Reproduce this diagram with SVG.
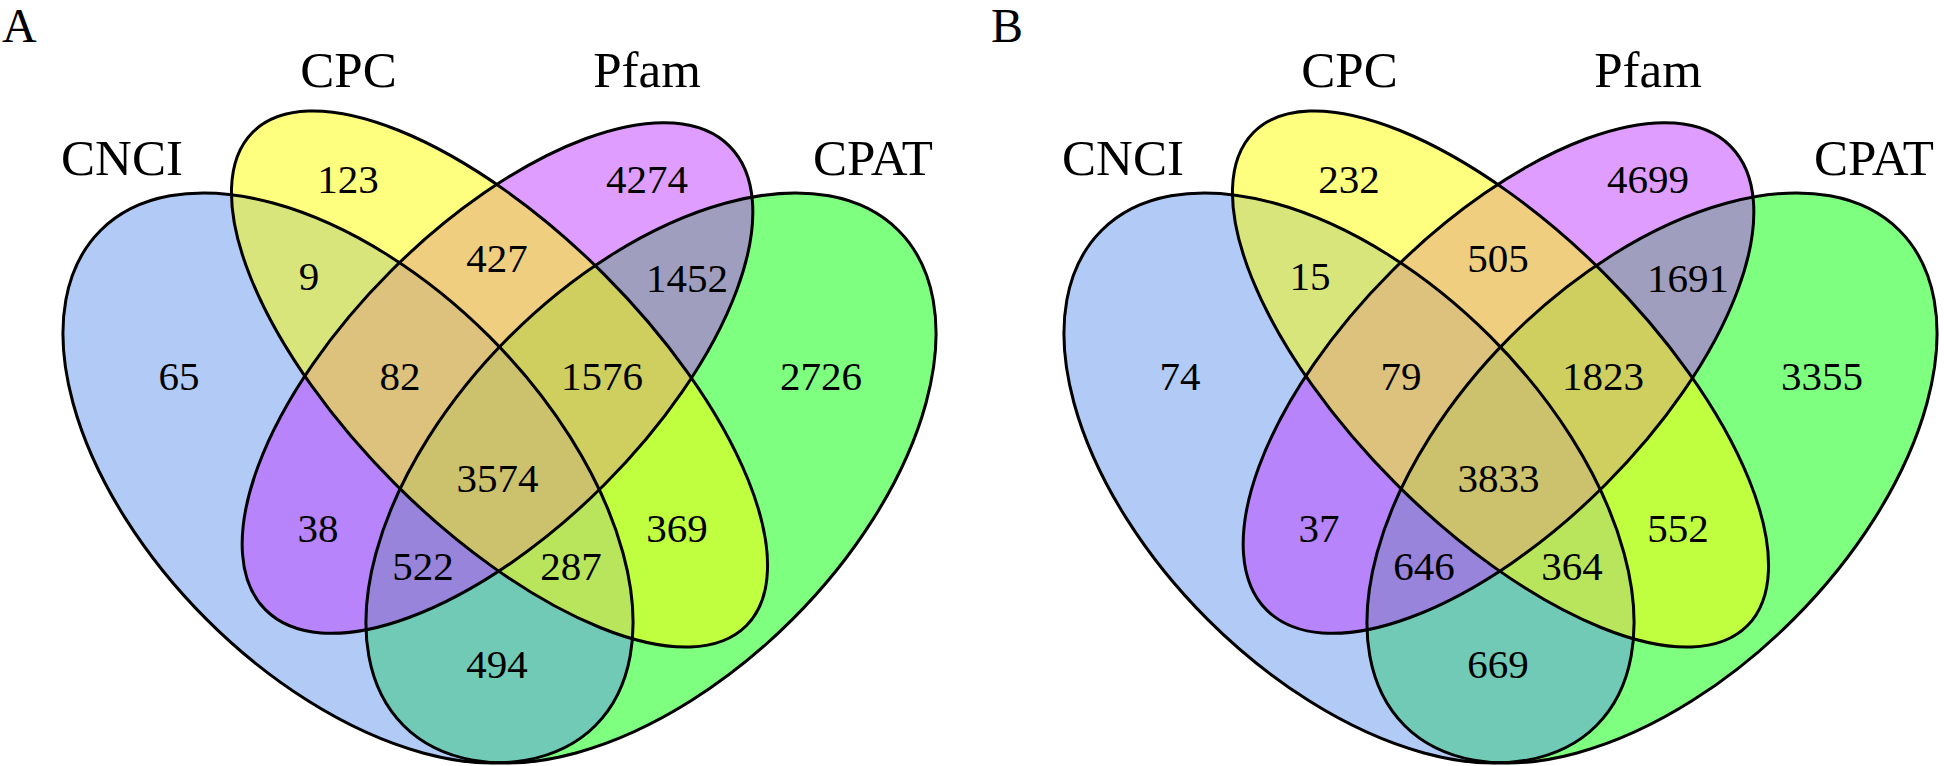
<svg xmlns="http://www.w3.org/2000/svg" width="1946" height="766" viewBox="0 0 1946 766">
<style>
.bg{fill:#ffffff}
.f-cpat{fill:#00ff00;fill-opacity:0.5}
.f-cnci{fill:#6495ed;fill-opacity:0.5}
.f-pfam{fill:#bf3eff;fill-opacity:0.5}
.f-cpc{fill:#ffff00;fill-opacity:0.5}
.ol{fill:none;stroke:#000000;stroke-width:3}
text{font-family:"Liberation Serif","Times New Roman",serif;fill:#000000}
.pl{font-size:48px}
.lab{font-size:51px;text-anchor:middle}
.num{font-size:41px;text-anchor:middle}
</style>
<rect class="bg" x="0" y="0" width="1946" height="766"/>

<g id="panelA">
  <text class="pl" x="2" y="42">A</text>
  <g id="A-CPAT"><ellipse class="f-cpat" cx="651" cy="478" rx="350" ry="200" transform="rotate(-45 651 478)"/><text class="lab" x="873" y="175">CPAT</text></g>
  <g id="A-CNCI"><ellipse class="f-cnci" cx="348" cy="478" rx="350" ry="200" transform="rotate(45 348 478)"/><text class="lab" x="122" y="175">CNCI</text></g>
  <g id="A-Pfam"><ellipse class="f-pfam" cx="497.5" cy="378" rx="328" ry="151" transform="rotate(-45 497.5 378)"/><text class="lab" x="647" y="87">Pfam</text></g>
  <g id="A-CPC"><ellipse class="f-cpc" cx="499.5" cy="379" rx="349" ry="148" transform="rotate(45 499.5 379)"/><text class="lab" x="348.5" y="87">CPC</text></g>
  <g id="A-outlines">
    <ellipse class="ol" cx="651" cy="478" rx="350" ry="200" transform="rotate(-45 651 478)"/>
    <ellipse class="ol" cx="348" cy="478" rx="350" ry="200" transform="rotate(45 348 478)"/>
    <ellipse class="ol" cx="497.5" cy="378" rx="328" ry="151" transform="rotate(-45 497.5 378)"/>
    <ellipse class="ol" cx="499.5" cy="379" rx="349" ry="148" transform="rotate(45 499.5 379)"/>
  </g>
  <g id="A-counts">
    <text class="num" x="348" y="193">123</text>
    <text class="num" x="647" y="193">4274</text>
    <text class="num" x="309" y="290">9</text>
    <text class="num" x="497" y="272">427</text>
    <text class="num" x="687" y="292">1452</text>
    <text class="num" x="179" y="390">65</text>
    <text class="num" x="400" y="390">82</text>
    <text class="num" x="602" y="390">1576</text>
    <text class="num" x="821" y="390">2726</text>
    <text class="num" x="497.5" y="492">3574</text>
    <text class="num" x="318" y="542">38</text>
    <text class="num" x="677" y="542">369</text>
    <text class="num" x="423" y="580">522</text>
    <text class="num" x="571" y="580">287</text>
    <text class="num" x="497" y="678">494</text>
  </g>
</g>

<g id="panelB" transform="translate(1001,0)">
  <text class="pl" x="-10" y="42">B</text>
  <g id="B-CPAT"><ellipse class="f-cpat" cx="651" cy="478" rx="350" ry="200" transform="rotate(-45 651 478)"/><text class="lab" x="873" y="175">CPAT</text></g>
  <g id="B-CNCI"><ellipse class="f-cnci" cx="348" cy="478" rx="350" ry="200" transform="rotate(45 348 478)"/><text class="lab" x="122" y="175">CNCI</text></g>
  <g id="B-Pfam"><ellipse class="f-pfam" cx="497.5" cy="378" rx="328" ry="151" transform="rotate(-45 497.5 378)"/><text class="lab" x="647" y="87">Pfam</text></g>
  <g id="B-CPC"><ellipse class="f-cpc" cx="499.5" cy="379" rx="349" ry="148" transform="rotate(45 499.5 379)"/><text class="lab" x="348.5" y="87">CPC</text></g>
  <g id="B-outlines">
    <ellipse class="ol" cx="651" cy="478" rx="350" ry="200" transform="rotate(-45 651 478)"/>
    <ellipse class="ol" cx="348" cy="478" rx="350" ry="200" transform="rotate(45 348 478)"/>
    <ellipse class="ol" cx="497.5" cy="378" rx="328" ry="151" transform="rotate(-45 497.5 378)"/>
    <ellipse class="ol" cx="499.5" cy="379" rx="349" ry="148" transform="rotate(45 499.5 379)"/>
  </g>
  <g id="B-counts">
    <text class="num" x="348" y="193">232</text>
    <text class="num" x="647" y="193">4699</text>
    <text class="num" x="309" y="290">15</text>
    <text class="num" x="497" y="272">505</text>
    <text class="num" x="687" y="292">1691</text>
    <text class="num" x="179" y="390">74</text>
    <text class="num" x="400" y="390">79</text>
    <text class="num" x="602" y="390">1823</text>
    <text class="num" x="821" y="390">3355</text>
    <text class="num" x="497.5" y="492">3833</text>
    <text class="num" x="318" y="542">37</text>
    <text class="num" x="677" y="542">552</text>
    <text class="num" x="423" y="580">646</text>
    <text class="num" x="571" y="580">364</text>
    <text class="num" x="497" y="678">669</text>
  </g>
</g>
</svg>
